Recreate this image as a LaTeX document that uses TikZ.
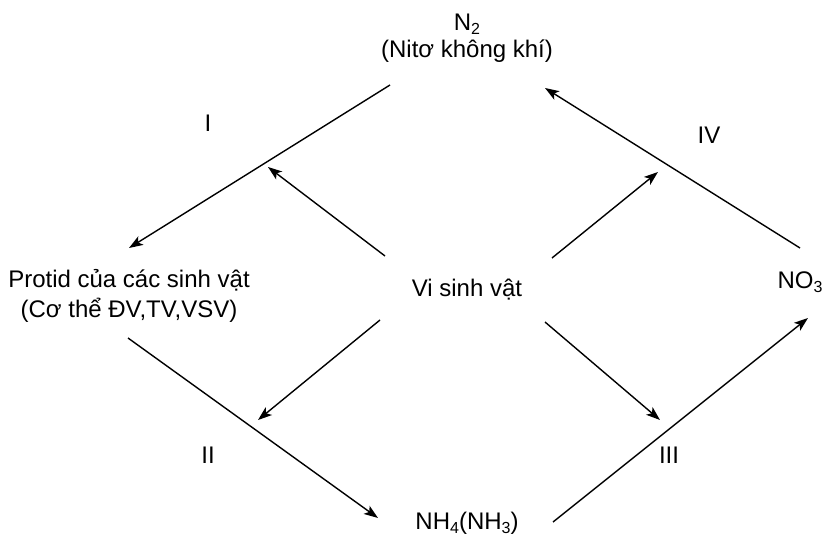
\documentclass[tikz,border=0pt]{standalone}
\usepackage{fontspec}
\setmainfont{Liberation Sans}
\usetikzlibrary{arrows.meta}
\newcommand{\chemsub}[1]{\raisebox{-4pt}{\fontsize{16}{16}\selectfont #1}}

\begin{document}
\begin{tikzpicture}[x=1pt,y=1pt,yscale=-1,xscale=1,
  lbl/.style={anchor=base,inner sep=0pt,align=center,font=\fontsize{24}{30}\selectfont},
  flow/.style={line width=1.4pt,-{Stealth[length=14pt,width=10pt,inset=3.5pt]}}]
\useasboundingbox (0,0) rectangle (823,538);

% Text Node
\node [lbl] (nito) at (467,57) {N\chemsub{2}\\[-3.5pt](Nitơ không khí)};
% Text Node
\node [lbl] (protid) at (129,317) {Protid của các sinh vật\\(Cơ thể ĐV,TV,VSV)};
% Text Node
\node [lbl] (vsv) at (467,296) {Vi sinh vật};
% Text Node
\node [lbl] (no3) at (800,288) {NO\chemsub{3}};
% Text Node
\node [lbl] (nh4) at (467,529) {NH\chemsub{4}(NH\chemsub{3})};
% Text Node
\node [lbl] (sI) at (208,131) {I};
% Text Node
\node [lbl] (sIV) at (709,143) {IV};
% Text Node
\node [lbl] (sII) at (208,463) {II};
% Text Node
\node [lbl] (sIII) at (669,463) {III};

%Arrow ends
\coordinate (a1) at (390,85);   \coordinate (b1) at (129,248);
\coordinate (a2) at (385,256);  \coordinate (b2) at (268,167);
\coordinate (a3) at (552,258);  \coordinate (b3) at (658,172);
\coordinate (a4) at (800,248);  \coordinate (b4) at (545,88);
\coordinate (a5) at (128,338);  \coordinate (b5) at (378,518);
\coordinate (a6) at (380,320);  \coordinate (b6) at (258,420);
\coordinate (a7) at (545,322);  \coordinate (b7) at (660,420);
\coordinate (a8) at (553,522);  \coordinate (b8) at (808,318);

%Straight Lines
\foreach \i in {1,...,8}
  \draw [flow] (a\i) -- (b\i);

\end{tikzpicture}
\end{document}
